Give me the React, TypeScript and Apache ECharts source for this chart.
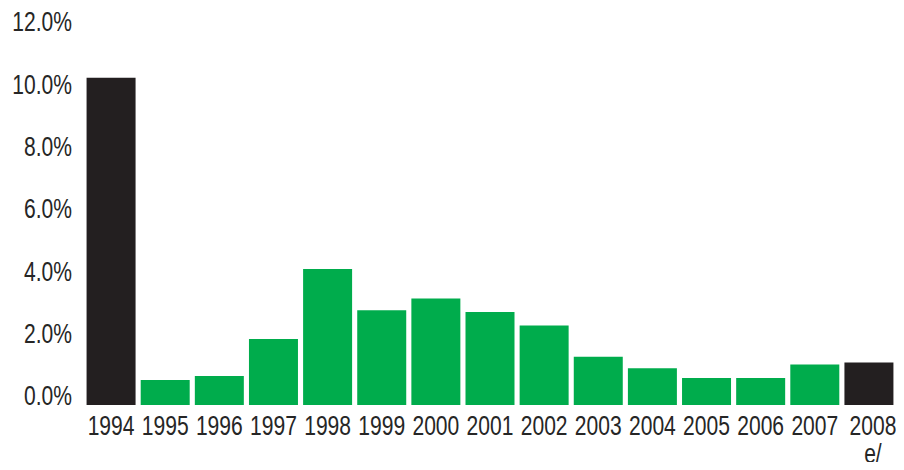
import React, { useEffect, useRef } from "react";
import * as echarts from "echarts";

const years = ["1994", "1995", "1996", "1997", "1998", "1999", "2000", "2001", "2002", "2003", "2004", "2005", "2006", "2007", "2008\ne/"];
const rates = [10.5, 0.8, 0.93, 2.12, 4.36, 3.04, 3.42, 2.98, 2.55, 1.55, 1.18, 0.87, 0.87, 1.3, 1.36];
const darkYears = ["1994", "2008\ne/"];
const yTicks = [0, 2, 4, 6, 8, 10, 12];

const GREEN = "#00ac4c";
const DARK = "#231f20";
const TEXT = "#262626";
const FONT = "'Liberation Sans', Arial, sans-serif";
const FONT_SIZE = 27;
// condensed look: Liberation Sans squeezed horizontally
const SQUEEZE = 0.78;

export default function App() {
  const ref = useRef<HTMLDivElement>(null);

  useEffect(() => {
    if (!ref.current) return;
    const chart = echarts.init(ref.current, undefined, { renderer: "svg" });
    chart.setOption({
      animation: false,
      backgroundColor: "#ffffff",
      grid: { left: 84, right: 8, top: 31, bottom: 65, containLabel: false },
      xAxis: {
        type: "category",
        data: years,
        axisLine: { show: false },
        axisTick: { show: false },
        axisLabel: { show: false },
      },
      yAxis: {
        type: "value",
        min: yTicks[0],
        max: yTicks[yTicks.length - 1],
        interval: 2,
        splitLine: { show: false },
        axisLine: { show: false },
        axisTick: { show: false },
        axisLabel: { show: false },
      },
      series: [
        {
          type: "bar",
          barWidth: 49,
          data: rates.map((v, i) => ({
            value: v,
            itemStyle: { color: darkYears.includes(years[i]) ? DARK : GREEN },
          })),
        },
      ],
    });

    // Axis labels are drawn as graphic texts so they can be condensed.
    const baseY = chart.convertToPixel({ yAxisIndex: 0 }, 0) as number;
    const yLabels = yTicks.map((t) => ({
      type: "text",
      x: 72,
      y: (chart.convertToPixel({ yAxisIndex: 0 }, t) as number) - 9,
      scaleX: SQUEEZE,
      silent: true,
      style: {
        text: t.toFixed(1) + "%",
        font: `${FONT_SIZE}px ${FONT}`,
        fill: TEXT,
        align: "right",
        verticalAlign: "middle",
      },
    }));
    const xLabels = years.map((y, i) => ({
      type: "text",
      x: (chart.convertToPixel({ xAxisIndex: 0 }, y) as number) + (i === years.length - 1 ? 4 : 0),
      y: baseY + 7,
      scaleX: SQUEEZE,
      silent: true,
      style: {
        text: y,
        font: `${FONT_SIZE}px ${FONT}`,
        lineHeight: 28,
        fill: TEXT,
        align: "center",
        verticalAlign: "top",
      },
    }));
    chart.setOption({ graphic: [...yLabels, ...xLabels] });

    return () => chart.dispose();
  }, []);

  return <div ref={ref} style={{ width: 904, height: 470, margin: -8 }} />;
}
